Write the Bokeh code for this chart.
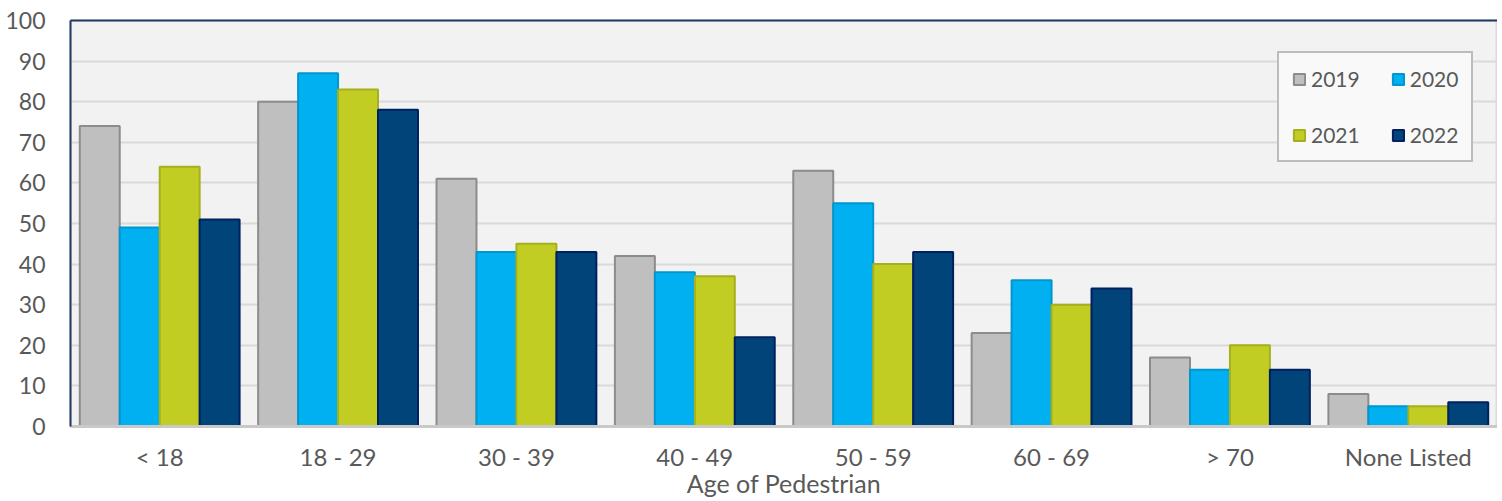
from bokeh.plotting import figure
from bokeh.models import ColumnDataSource, FactorRange, Range1d, CategoricalAxis, FixedTicker
from bokeh.transform import dodge
from bokeh.embed import file_html
from bokeh.resources import INLINE

categories = ["< 18", "18 - 29", "30 - 39", "40 - 49", "50 - 59", "60 - 69", "> 70", "None Listed"]
years = ["2019", "2020", "2021", "2022"]
v2019 = [74, 80, 61, 42, 63, 23, 17, 8]
v2020 = [49, 87, 43, 38, 55, 36, 14, 5]
v2021 = [64, 83, 45, 37, 40, 30, 20, 5]
v2022 = [51, 78, 43, 22, 43, 34, 14, 6]
y_ticks = [0, 10, 20, 30, 40, 50, 60, 70, 80, 90, 100]
x_title = "Age of Pedestrian"

fills = ["#BFBFBF", "#00B0F0", "#C1CD23", "#004479"]
lines = ["#8C8C8C", "#0096D0", "#A5B01E", "#002060"]
offsets = [-0.336, -0.112, 0.112, 0.336]

source = ColumnDataSource(data=dict(cat=categories, y2019=v2019, y2020=v2020, y2021=v2021, y2022=v2022))

FONT = "Lato"
TXT = "#595959"

p = figure(x_range=FactorRange(*categories, range_padding=0), y_range=Range1d(0, 100),
           width=1497, height=500, output_backend="svg", toolbar_location=None,
           min_border_left=70, min_border_right=0, min_border_top=20, min_border_bottom=0)

for yr, col, fc, lc, off in zip(years, ["y2019", "y2020", "y2021", "y2022"], fills, lines, offsets):
    p.vbar(x=dodge("cat", off, range=p.x_range), top=col, width=0.224, source=source,
           fill_color=fc, line_color=lc, line_width=2, legend_label=yr)

p.background_fill_color = "#F2F2F2"
p.border_fill_color = "white"
p.outline_line_color = "#D9D9D9"
p.outline_line_width = 2

p.xgrid.grid_line_color = None
p.ygrid.grid_line_color = "#D9D9D9"
p.ygrid.grid_line_width = 2
p.yaxis.ticker = FixedTicker(ticks=y_ticks)

p.yaxis.axis_line_color = "#203864"
p.yaxis.axis_line_width = 2
p.yaxis.major_tick_line_color = None
p.yaxis.minor_tick_line_color = None
p.yaxis.major_tick_out = 0
p.yaxis.major_tick_in = 0
p.yaxis.minor_tick_out = 0
p.yaxis.major_label_standoff = 25
p.yaxis.major_label_text_font = FONT
p.yaxis.major_label_text_font_size = "23px"
p.yaxis.major_label_text_color = TXT

p.xaxis.axis_line_color = "#C9C9C9"
p.xaxis.axis_line_width = 3
p.xaxis.major_tick_line_color = None
p.xaxis.minor_tick_line_color = None
p.xaxis.major_tick_out = 0
p.xaxis.major_tick_in = 0
p.xaxis.major_label_standoff = 15
p.xaxis.major_label_text_font = FONT
p.xaxis.major_label_text_font_size = "24px"
p.xaxis.major_label_text_color = TXT
p.xaxis.axis_label = x_title
p.xaxis.axis_label_text_font = FONT
p.xaxis.axis_label_text_font_size = "25px"
p.xaxis.axis_label_text_font_style = "normal"
p.xaxis.axis_label_text_color = TXT
p.xaxis.axis_label_standoff = -6

top_axis = CategoricalAxis(axis_line_color="#203864", axis_line_width=2,
                           major_tick_line_color=None, minor_tick_line_color=None,
                           major_tick_out=0, major_tick_in=0,
                           major_label_text_font_size="0px", major_label_standoff=0)
p.add_layout(top_axis, "above")

lg = p.legend[0]
items = {it.label.value: it for it in lg.items}
lg.items = [items["2019"], items["2021"], items["2020"], items["2022"]]
lg.ncols = 2
lg.location = (1207, 264)
lg.background_fill_color = "#F9F9F9"
lg.background_fill_alpha = 1
lg.border_line_color = "#7F7F7F"
lg.border_line_width = 2
lg.label_text_font = FONT
lg.label_text_font_size = "21px"
lg.label_text_color = TXT
lg.glyph_width = 14
lg.glyph_height = 14
lg.label_standoff = 5
lg.label_height = 20
lg.spacing = 31
lg.padding = 13
lg.margin = 0

open("out.html", "w").write(file_html(p, INLINE))
